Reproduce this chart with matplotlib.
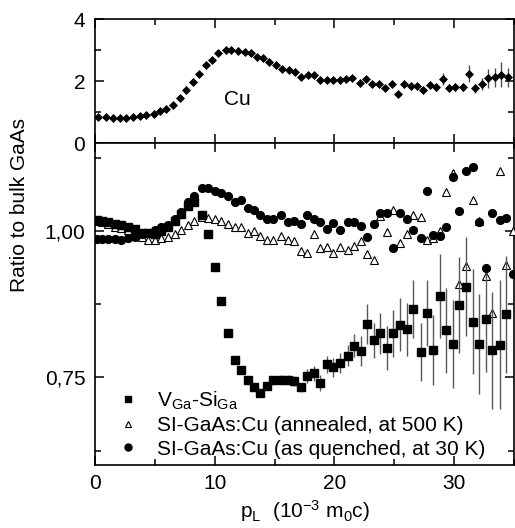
import numpy as np
import matplotlib
matplotlib.use("Agg")
import matplotlib.pyplot as plt
from matplotlib.lines import Line2D
from matplotlib.ticker import MultipleLocator, FuncFormatter

plt.rcParams["font.family"] = ["Liberation Sans", "DejaVu Sans"]
plt.rcParams["mathtext.default"] = "regular"

# ---- top panel: Cu ratio ----
cu_p = [0.28, 0.92, 1.53, 2.08, 2.6, 3.2, 3.75, 4.3, 4.9, 5.4,
        5.97, 6.5, 7.1, 7.6, 8.2, 8.7, 9.25, 9.8, 10.3, 10.9,
        11.4, 11.97, 12.5, 13.0, 13.5, 14.0, 14.5, 15.1, 15.6, 16.2,
        16.7, 17.2, 17.8, 18.3, 18.8, 19.4, 19.9, 20.5, 21.0, 21.5,
        22.1, 22.6, 23.1, 23.7, 24.2, 24.8, 25.3, 25.8, 26.4, 26.9,
        27.4, 28.0, 28.5, 29.1, 29.6, 30.1, 30.7, 31.2, 31.75, 32.3,
        32.8, 33.4, 33.9, 34.5]
cu_ratio = [0.85, 0.83, 0.82, 0.82, 0.82, 0.83, 0.87, 0.90, 0.95, 1.03,
            1.11, 1.24, 1.44, 1.71, 1.98, 2.22, 2.51, 2.69, 2.89, 3.00,
            3.00, 2.98, 2.95, 2.89, 2.78, 2.73, 2.63, 2.52, 2.38, 2.35,
            2.30, 2.14, 2.19, 2.19, 2.03, 2.03, 2.03, 2.03, 2.08, 2.10,
            1.94, 2.05, 1.90, 1.90, 1.78, 1.92, 1.57, 1.90, 1.83, 1.83,
            1.71, 1.87, 1.81, 2.06, 1.79, 1.81, 1.81, 2.24, 1.77, 1.91,
            2.09, 2.12, 2.21, 2.12]
cu_err = [0.0] * 38 + [0.05] * 12 + [0.08, 0.1, 0.12, 0.2, 0.12, 0.12, 0.12, 0.27,
                                     0.15, 0.2, 0.3, 0.3, 0.4, 0.3]

# ---- bottom panel: three samples on a common momentum grid ----
p_l = [0.14, 0.6, 1.1, 1.65, 2.2, 2.75, 3.3, 3.9, 4.45, 5.0,
       5.55, 6.1, 6.7, 7.2, 7.8, 8.3, 8.9, 9.45, 10.0, 10.55,
       11.1, 11.7, 12.2, 12.8, 13.3, 13.8, 14.4, 14.9, 15.5, 16.1,
       16.6, 17.2, 17.7, 18.3, 18.8, 19.4, 19.9, 20.5, 21.1, 21.6,
       22.2, 22.7, 23.3, 23.8, 24.4, 24.9, 25.5, 26.1, 26.6, 27.2,
       27.7, 28.2, 28.8, 29.3, 29.9, 30.4, 31.0, 31.6, 32.1, 32.7,
       33.2, 33.8, 34.3, 34.9]
vga_si = [1.018, 1.017, 1.015, 1.011, 1.010, 1.007, 1.003, 0.997, 0.997, 0.995,
          1.000, 1.007, 1.017, 1.029, 1.042, 1.050, 1.028, 0.994, 0.939, 0.880,
          0.825, 0.779, 0.762, 0.745, 0.733, 0.723, 0.736, 0.745, 0.746, 0.746,
          0.744, 0.733, 0.753, 0.757, 0.740, 0.772, 0.767, 0.774, 0.787, 0.804,
          0.795, 0.841, 0.813, 0.825, 0.800, 0.825, 0.840, 0.832, 0.867, 0.793,
          0.860, 0.797, 0.889, 0.830, 0.807, 0.874, 0.905, 0.845, 0.807, 0.849,
          0.796, 0.806, 0.858, np.nan]
vga_err = [0.003] * 12 + [0.004] * 9 + [0.006] * 6 + [0.008] * 5 + \
          [0.012, 0.013, 0.014, 0.015, 0.016, 0.017, 0.018, 0.02,
           0.025, 0.034, 0.03, 0.035, 0.038, 0.04, 0.045, 0.045, 0.05, 0.05,
           0.057, 0.06, 0.071, 0.072, 0.075, 0.082, 0.085, 0.09, 0.085, 0.09,
           0.1, 0.11, 0.1, 0.0]
annealed = [1.017, 1.015, 1.011, 1.007, 1.005, 1.001, 0.997, 0.990, 0.984, 0.984,
            0.988, 0.990, 0.994, 1.001, 1.010, 1.017, 1.024, 1.022, 1.020, 1.017,
            1.012, 1.007, 1.006, 0.997, 1.000, 0.991, 0.985, 0.984, 0.991, 0.984,
            0.983, 0.966, 0.963, 0.994, 0.971, 0.972, 0.962, 0.973, 0.967, 0.974,
            0.982, 0.960, 0.951, 1.026, 0.999, 1.036, 0.980, 0.995, 1.028, 1.024,
            0.984, 0.988, 1.000, 1.066, 1.099, 0.910, 0.940, 1.052, 1.017, 0.923,
            0.860, 1.103, 0.942, 1.000]
quenched = [0.987, 0.987, 0.987, 0.987, 0.985, 0.988, 0.990, 0.994, 0.997, 1.001,
            1.006, 1.010, 1.020, 1.032, 1.049, 1.059, 1.073, 1.074, 1.068, 1.065,
            1.059, 1.049, 1.052, 1.039, 1.036, 1.028, 1.020, 1.021, 1.028, 1.016,
            1.017, 1.011, 1.027, 1.020, 1.016, 1.003, 1.014, 1.001, 1.015, 1.015,
            1.009, 0.989, 1.011, 1.030, 1.030, 0.971, 1.030, 1.020, 1.001, 0.988,
            1.069, 0.993, 0.991, 1.007, 1.092, 1.034, 1.102, 1.109, 1.016, 0.937,
            1.031, 1.019, 1.022, 0.927]

FS = 15


def style_axis(ax):
    ax.set_xlim(0, 35)
    ax.xaxis.set_major_locator(MultipleLocator(10))
    ax.xaxis.set_minor_locator(MultipleLocator(5))
    ax.tick_params(which="both", direction="in", top=True, right=True,
                   labelsize=FS, width=1.1)
    ax.tick_params(which="major", length=6.5)
    ax.tick_params(which="minor", length=4)
    ax.tick_params(axis="y", pad=7)
    ax.tick_params(axis="x", pad=6)
    for sp in ax.spines.values():
        sp.set_linewidth(1.2)


fig = plt.figure(figsize=(5.15, 5.28), dpi=100)
ax1 = fig.add_axes([0.1845, 0.729, 0.8136, 0.235])
ax2 = fig.add_axes([0.1845, 0.119, 0.8136, 0.610], sharex=ax1)

# top panel
ax1.errorbar(cu_p, cu_ratio, yerr=cu_err, fmt="D", ms=4.3, color="black",
             mew=0.5, ecolor="0.3", elinewidth=1, capsize=0)
ax1.text(11.9, 1.42, "Cu", fontsize=FS, ha="center", va="center")
ax1.set_ylim(0, 4)
ax1.yaxis.set_major_locator(MultipleLocator(2))
ax1.yaxis.set_minor_locator(MultipleLocator(1))
style_axis(ax1)
ax1.tick_params(labelbottom=False)

# bottom panel
ax2.plot(p_l, annealed, "^", ms=5.8, mfc="white", mec="black", mew=0.8,
         ls="none", zorder=3)
ax2.errorbar(p_l, vga_si, yerr=vga_err, fmt="s", ms=5.2, color="black",
             ecolor="0.35", elinewidth=1, capsize=0, zorder=4)
ax2.plot(p_l, quenched, "o", ms=5.6, color="black", ls="none", zorder=5)
ax2.set_ylim(0.6, 1.15)
ax2.yaxis.set_major_locator(MultipleLocator(0.25))
ax2.yaxis.set_minor_locator(MultipleLocator(0.125))
ax2.yaxis.set_major_formatter(FuncFormatter(lambda v, _: f"{v:.2f}".replace(".", ",")))
style_axis(ax2)
ax2.set_xlabel("p$_L$  (10$^{-3}$ m$_0$c)", fontsize=FS, labelpad=4)

handles = [
    Line2D([], [], marker="s", ms=4.8, color="black", ls="none"),
    Line2D([], [], marker="^", ms=5.0, mfc="white", mec="black", mew=0.8, ls="none"),
    Line2D([], [], marker="o", ms=5.0, color="black", ls="none"),
]
labels = ["V$_{Ga}$-Si$_{Ga}$", "SI-GaAs:Cu (annealed, at 500 K)",
          "SI-GaAs:Cu (as quenched, at 30 K)"]
ax2.legend(handles, labels, loc="lower left", bbox_to_anchor=(0.054, 0.02),
           frameon=False, fontsize=FS, handlelength=1.0, handletextpad=0.9,
           labelspacing=0.22, borderpad=0, borderaxespad=0)

fig.text(0.037, 0.612, "Ratio to bulk GaAs", rotation=90, fontsize=FS,
         ha="center", va="center")

fig.savefig("out.png", dpi=100)
